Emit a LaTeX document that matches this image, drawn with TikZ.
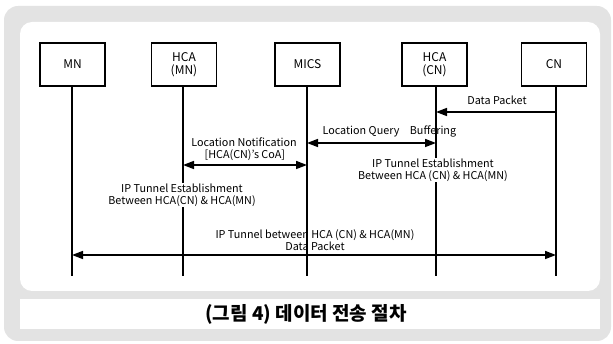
\documentclass[tikz,border=0pt]{standalone}
\usepackage{fontspec}
\setmainfont{Noto Sans CJK KR}
\usetikzlibrary{arrows.meta}
\begin{document}
\begin{tikzpicture}[x=1pt,y=-1pt,
  actor/.style={draw,line width=1.6pt,minimum width=65pt,minimum height=43pt,align=center,font=\fontsize{12}{13}\selectfont,inner sep=1pt},
  life/.style={line width=1.6pt},
  msg/.style={line width=1.6pt,-{Triangle[length=11pt,width=8pt]}},
  bmsg/.style={line width=1.6pt,{Triangle[length=11pt,width=8pt]}-{Triangle[length=11pt,width=8pt]}},
  lbl/.style={font=\fontsize{10.8}{12}\selectfont,align=center,inner sep=1pt}]
\useasboundingbox (0,0) rectangle (613,344);
% frame
\fill[gray!22,rounded corners=14pt] (4,6) rectangle (611,341);
\fill[white,rounded corners=12pt] (20,22) rectangle (600,291);
\fill[white] (20,299) rectangle (600,329);
% actors
\node[actor] (mn) at (72.5,64.5) {MN};
\node[actor] (hmn) at (184,64.5) {HCA\\(MN)};
\node[actor] (mics) at (307.5,64.5) {MICS};
\node[actor] (hcn) at (434.5,64.5) {HCA\\(CN)};
\node[actor] (cn) at (554,64.5) {CN};
% lifeline ends
\coordinate (mnE) at (72,276);
\coordinate (hmnE) at (183,276);
\coordinate (micsE) at (307,276);
\coordinate (hcnE) at (436,276);
\coordinate (cnE) at (556,276);
\draw[life] (mn.south -| mnE) -- (mnE);
\draw[life] (hmn.south -| hmnE) -- (hmnE);
\draw[life] (mics.south -| micsE) -- (micsE);
\draw[life] (hcn.south -| hcnE) -- (hcnE);
\draw[life] (cn.south -| cnE) -- (cnE);
% messages
\coordinate (dpA) at (556,112); \coordinate (dpB) at (436,112);
\draw[msg] (dpA) -- (dpB);
\node[lbl] (dp) at (497,100) {Data Packet};
\coordinate (lqA) at (307,143); \coordinate (lqB) at (436,143);
\draw[bmsg] (lqA) -- (lqB);
\node[lbl] (lq) at (361,132) {Location Query};
\node[lbl] (buf) at (433,131) {Buffering};
\coordinate (lnA) at (183,165); \coordinate (lnB) at (307,165);
\draw[bmsg] (lnA) -- (lnB);
\node[lbl] (ln) at (244,149) {Location Notification\\\,[HCA(CN)'s CoA]};
\node[lbl,fill=white] (ip1) at (433,170) {IP Tunnel Establishment\\Between HCA (CN) \& HCA(MN)};
\node[lbl,fill=white] (ip2) at (182,195) {IP Tunnel Establishment\\Between HCA(CN) \& HCA(MN)};
\node[lbl] (ip3) at (315,240) {IP Tunnel between HCA (CN) \& HCA(MN)\\Data Packet};
\coordinate (tA) at (72,255); \coordinate (tB) at (556,255);
\draw[bmsg] (tA) -- (tB);
% caption
\node[font=\fontsize{19}{21}\selectfont\bfseries] (cap) at (306,314) {(그림 4) 데이터 전송 절차};
\end{tikzpicture}
\end{document}
